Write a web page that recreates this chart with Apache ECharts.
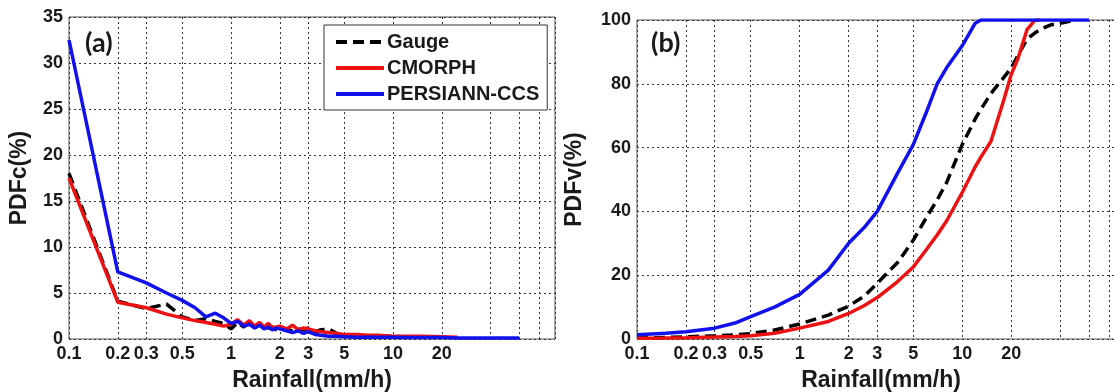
<!DOCTYPE html>
<html>
<head>
<meta charset="utf-8">
<script src="https://cdn.jsdelivr.net/npm/echarts@6/dist/echarts.min.js"></script>
<style>
  html, body { margin: 0; padding: 0; background: #fff; }
  #main { width: 1114px; height: 392px; }
</style>
</head>
<body>
<div id="main"></div>
<script>
// ---- data ----
// (a) PDFc by occurrence
const rainA = [0.1, 0.2, 0.3, 0.4, 0.5, 0.6, 0.7, 0.8, 0.9, 1.0, 1.1, 1.2, 1.3, 1.4, 1.5, 1.6, 1.7, 1.8, 1.9, 2.0,
  2.2, 2.4, 2.6, 2.8, 3.0, 3.3, 3.6, 4.0, 4.5, 5, 6, 7, 8, 10, 12, 15, 20, 25, 30, 40, 50, 60];
const gaugeA = [18, 4.1, 3.3, 3.8, 2.4, 2.0, 2.2, 1.9, 1.7, 1.1, 1.8, 1.3, 1.9, 1.2, 1.6, 1.4, 1.2, 1.3, 1.0, 1.2,
  1.0, 0.9, 1.1, 1.0, 1.2, 0.8, 1.0, 1.1, 0.6, 0.4, 0.4, 0.3, 0.3, 0.3, 0.2, 0.2, 0.2, null, null, null, null, null];
const cmorphA = [17.5, 4.0, 3.4, 2.7, 2.3, 2.0, 1.8, 1.6, 1.4, 1.6, 2.1, 1.5, 2.0, 1.4, 1.8, 1.3, 1.7, 1.2, 1.3, 1.4,
  1.1, 1.5, 1.0, 1.2, 1.1, 0.9, 0.8, 0.7, 0.6, 0.5, 0.5, 0.4, 0.4, 0.3, 0.3, 0.3, 0.25, 0.2, null, null, null, null];
const persiannA = [32.5, 7.3, 6.1, 5.0, 4.2, 3.4, 2.4, 2.8, 2.3, 1.7, 1.9, 1.4, 1.6, 1.2, 1.5, 1.1, 1.3, 1.0, 1.2, 1.1,
  0.9, 0.7, 0.9, 0.6, 0.8, 0.5, 0.4, 0.3, 0.3, 0.25, 0.2, 0.2, 0.2, 0.2, 0.15, 0.15, 0.15, 0.1, 0.1, 0.1, 0.1, 0.1];

// (b) PDFv by volume (cumulative)
const rainB = [0.1, 0.15, 0.2, 0.3, 0.4, 0.5, 0.7, 1, 1.5, 2, 2.5, 3, 4, 5, 6, 7, 8, 10, 12, 13, 15, 18, 20, 22, 25, 28,
  30, 35, 40, 50, 60];
const gaugeB = [0.3, 0.5, 0.7, 1.0, 1.3, 1.7, 2.8, 4.7, 7.5, 10.3, 13.5, 17.5, 24, 31, 38, 43.6, 49, 61, 69, 72, 77, 82,
  85, 89, 94, 96, 97, 98.5, 99, 100, null];
const cmorphB = [0.2, 0.3, 0.4, 0.6, 0.8, 1.0, 1.8, 3.4, 5.5, 8, 10.5, 13, 18, 22.6, 28, 32.6, 37, 46, 54, 57, 62, 75,
  83, 88, 97, 100, 100, null, null, null, null];
const persiannB = [1.3, 1.8, 2.3, 3.4, 5, 7, 10, 14, 21.6, 30, 35, 40, 52, 61, 71, 80, 85, 92, 99, 100, 100, 100,
  100, 100, 100, 100, 100, 100, 100, 100, 100];

const xTicks = [0.1, 0.2, 0.3, 0.5, 1, 2, 3, 5, 10, 20, 40, 60, 80, 100];
const xLabels = [0.1, 0.2, 0.3, 0.5, 1, 2, 3, 5, 10, 20];

const pairs = (xs, ys) => xs.map((x, i) => [x, ys[i]]).filter(p => p[1] != null);

const FONT = 'Liberation Sans, Arial, sans-serif';
const gridLine = { show: true, lineStyle: { type: [2, 3], color: '#333', width: 1 } };

function xAxisFor(idx) {
  return {
    type: 'log', logBase: 10, gridIndex: idx, min: 0.1, max: 100,
    name: 'Rainfall(mm/h)', nameLocation: 'middle', nameGap: 30,
    nameTextStyle: { fontFamily: FONT, fontWeight: 'bold', fontSize: 23, color: '#1a1a1a' },
    axisLine: { show: false },
    axisTick: { show: false, customValues: xTicks },
    axisLabel: {
      customValues: xLabels, margin: 6, fontFamily: FONT, fontWeight: 'bold', fontSize: 18, color: '#1a1a1a',
      formatter: v => String(+(+v).toPrecision(3))
    },
    splitLine: gridLine,
    minorSplitLine: { show: false }
  };
}

function yAxisFor(idx, max, interval, name, gap) {
  return {
    type: 'value', gridIndex: idx, min: 0, max: max, interval: interval,
    name: name, nameLocation: 'middle', nameGap: gap,
    nameTextStyle: { fontFamily: FONT, fontWeight: 'bold', fontSize: 23, color: '#1a1a1a' },
    axisLine: { show: false },
    axisTick: { show: false },
    axisLabel: { margin: 6, fontFamily: FONT, fontWeight: 'bold', fontSize: 18, color: '#1a1a1a' },
    splitLine: gridLine
  };
}

function lineSeries(name, data, idx, color, dashed) {
  return {
    name: name, type: 'line', xAxisIndex: idx, yAxisIndex: idx, data: data,
    showSymbol: false, symbol: 'none', smooth: false, animation: false,
    lineStyle: { color: color, width: 3.5, type: dashed ? [11, 6] : 'solid' },
    itemStyle: { color: color }
  };
}

const chart = echarts.init(document.getElementById('main'), null, { renderer: 'canvas' });
chart.setOption({
  backgroundColor: '#fff',
  animation: false,
  grid: [
    { left: 69, right: 559, top: 17, bottom: 53, outerBoundsMode: 'none', containLabel: false,
      show: true, borderColor: '#555', borderWidth: 1 },
    { left: 637, right: -11, top: 20, bottom: 53, outerBoundsMode: 'none', containLabel: false,
      show: true, borderColor: '#555', borderWidth: 1 }
  ],
  legend: {
    left: 324, top: 25, orient: 'vertical',
    data: ['Gauge', 'CMORPH', 'PERSIANN-CCS'],
    itemWidth: 48, itemHeight: 14, itemGap: 6,
    padding: [7, 8, 6, 10],
    borderColor: '#333', borderWidth: 1, backgroundColor: '#fff',
    itemStyle: { opacity: 0 },
    lineStyle: { width: 4 },
    textStyle: { fontFamily: FONT, fontWeight: 'bold', fontSize: 20, color: '#1a1a1a', padding: [0, 0, 0, -2] }
  },
  xAxis: [xAxisFor(0), xAxisFor(1)],
  yAxis: [yAxisFor(0, 35, 5, 'PDFc(%)', 38), yAxisFor(1, 100, 20, 'PDFv(%)', 51)],
  graphic: [
    { type: 'text', left: 85, top: 30, style: { text: '(a)', fontFamily: 'Lato, sans-serif', fontWeight: 'bold', fontSize: 27, fill: '#1a1a1a' } },
    { type: 'text', left: 651, top: 30, style: { text: '(b)', fontFamily: 'Lato, sans-serif', fontWeight: 'bold', fontSize: 27, fill: '#1a1a1a' } }
  ],
  series: [
    lineSeries('Gauge', pairs(rainA, gaugeA), 0, '#000', true),
    lineSeries('CMORPH', pairs(rainA, cmorphA), 0, '#ee1111', false),
    lineSeries('PERSIANN-CCS', pairs(rainA, persiannA), 0, '#1111ee', false),
    lineSeries('Gauge', pairs(rainB, gaugeB), 1, '#000', true),
    lineSeries('CMORPH', pairs(rainB, cmorphB), 1, '#ee1111', false),
    lineSeries('PERSIANN-CCS', pairs(rainB, persiannB), 1, '#1111ee', false)
  ]
});
</script>
</body>
</html>
